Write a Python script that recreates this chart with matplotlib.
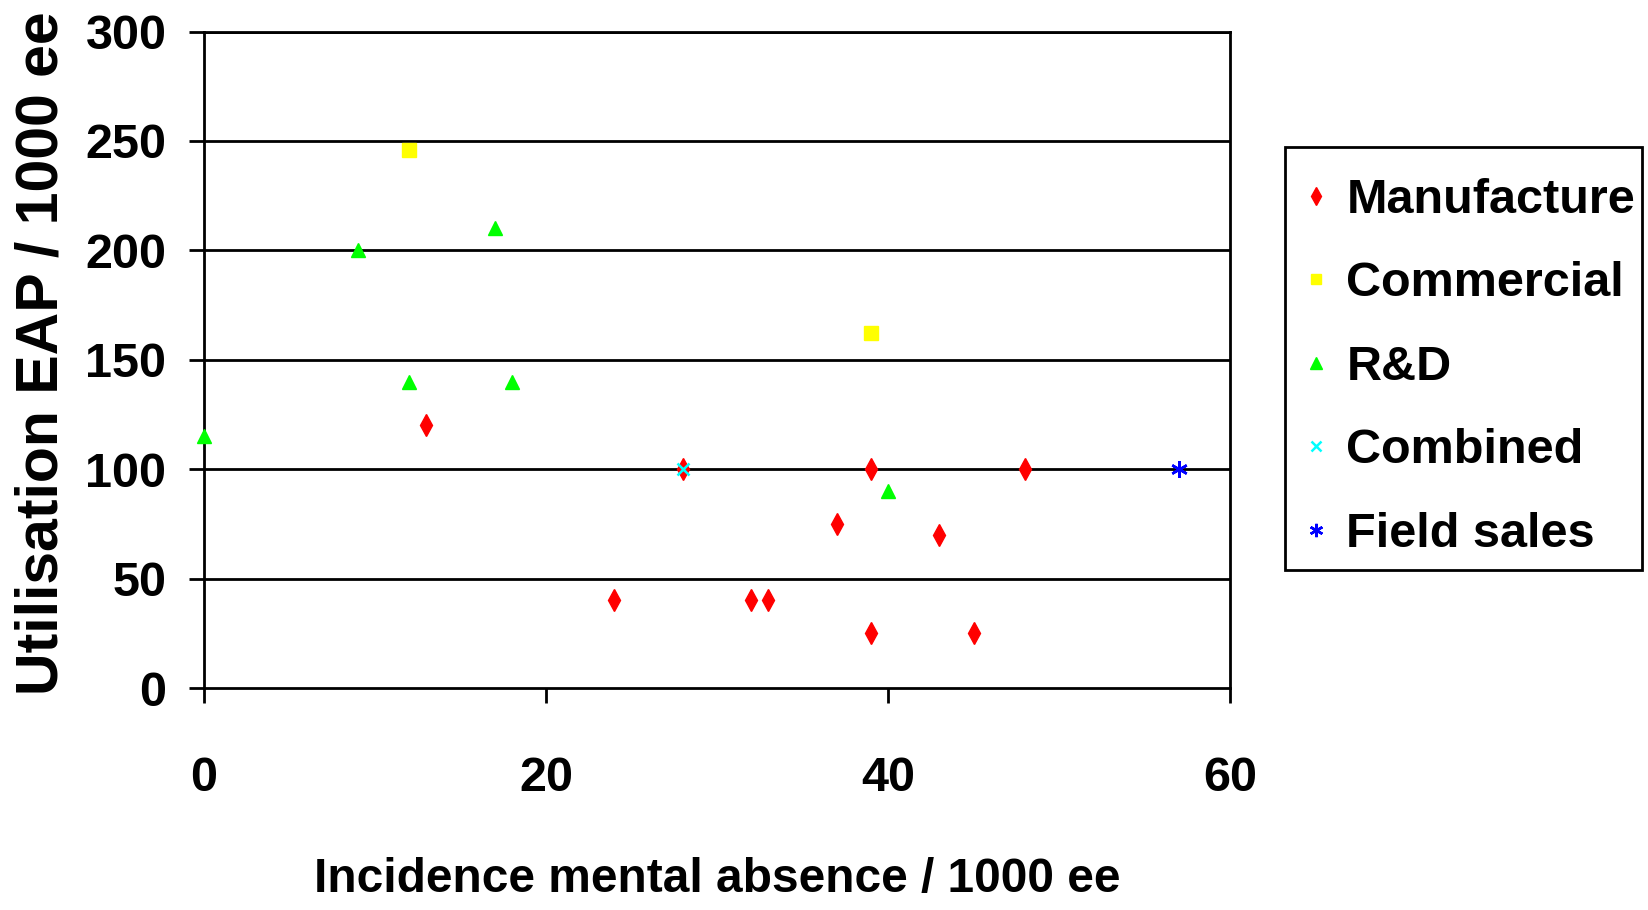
import matplotlib.pyplot as plt
from matplotlib.patches import Rectangle

plt.rcParams['font.family'] = ['Liberation Sans', 'DejaVu Sans']
plt.rcParams['font.weight'] = 'bold'

manuf_x = [13, 24, 28, 32, 33, 37, 39, 39, 43, 45, 48]
manuf_y = [120, 40, 100, 40, 40, 75, 100, 25, 70, 25, 100]
comm_x = [12, 39]
comm_y = [246, 162]
rd_x = [0, 9, 12, 17, 18, 40]
rd_y = [115, 200, 140, 210, 140, 90]
comb_x = [28]
comb_y = [100]
field_x = [57]
field_y = [100]

fig = plt.figure(figsize=(16.48, 9.10), dpi=100)
ax = fig.add_axes([204/1648, 1-688/910, 1026/1648, 656.5/910])

for y in [50, 100, 150, 200, 250, 300]:
    ax.axhline(y, color='black', lw=2, zorder=1)

ax.plot(manuf_x, manuf_y, 'd', color='red', ms=11, mec='red', label='Manufacture', clip_on=False, zorder=3)
ax.plot(comm_x, comm_y, 's', color='yellow', ms=9.5, mec='yellow', label='Commercial', clip_on=False, zorder=3)
ax.plot(rd_x, rd_y, '^', color='#00ff00', ms=10.5, mec='#00ff00', label='R&D', clip_on=False, zorder=3)
ax.plot(comb_x, comb_y, 'x', color='cyan', ms=9, mew=1.8, label='Combined', clip_on=False, zorder=4)
ax.plot(field_x, field_y, marker=(6, 2, 0), ls='none', color='blue', ms=12, mew=1.8, label='Field sales', clip_on=False, zorder=4)

ax.set_xlim(0, 60)
ax.set_ylim(0, 300)
ax.set_xticks([0, 20, 40, 60])
ax.set_yticks([0, 50, 100, 150, 200, 250, 300])
for s in ax.spines.values():
    s.set_linewidth(2)
ax.tick_params(axis='y', direction='out', length=11, width=2, pad=16, labelsize=35)
ax.tick_params(axis='x', direction='out', length=11, width=2, pad=38, labelsize=35)

ax.set_xlabel('Incidence mental absence / 1000 ee', fontsize=34.5, fontweight='bold')
ax.set_ylabel('Utilisation EAP / 1000 ee', fontsize=42.5, fontweight='bold')
ax.xaxis.set_label_coords(0.5, -0.258)
ax.yaxis.set_label_coords(-0.131, 0.51)

# legend without its own frame, box drawn separately
leg = fig.legend(loc='upper left', bbox_to_anchor=(1304/1648, 1-178/910),
                 fontsize=35, frameon=False,
                 handlelength=0.5, handletextpad=0.37, labelspacing=0.79,
                 borderpad=0, borderaxespad=0, markerscale=0.8)
fig.patches.append(Rectangle((1285/1648, 1-570/910), 357/1648, 423/910,
                             transform=fig.transFigure, fill=False,
                             ec='black', lw=2))

fig.savefig('out.png', dpi=100)
